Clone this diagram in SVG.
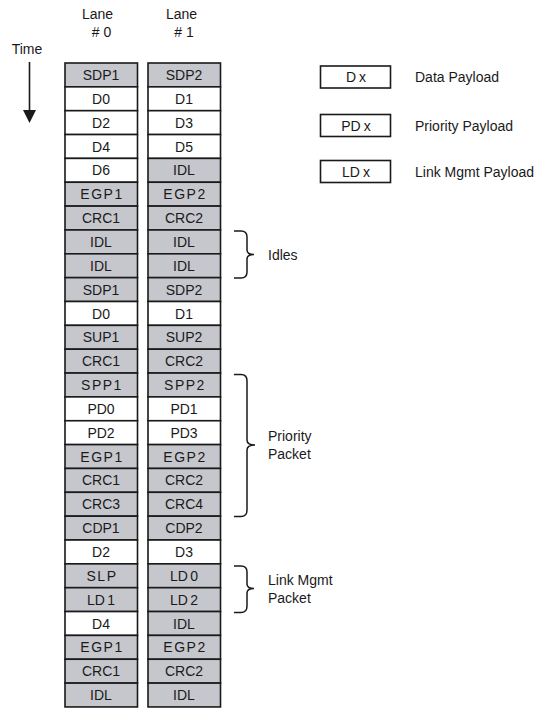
<svg xmlns="http://www.w3.org/2000/svg" width="540" height="710" viewBox="0 0 540 710">
<style>
text{font-family:"Liberation Sans",Arial,sans-serif;fill:#1a1a1a}
.c{font-size:14px;text-anchor:middle}
.h{font-size:14px;text-anchor:middle}
.l{font-size:14px}
.g{fill:#c6c7cd;stroke:#1a1a1a;stroke-width:1.6}
.w{fill:#ffffff;stroke:#1a1a1a;stroke-width:1.6}
.b{fill:none;stroke:#1a1a1a;stroke-width:1.5}
.sp{letter-spacing:1.5px}
</style>
<rect width="540" height="710" fill="#ffffff"/>
<g id="headers">
<text class="h" x="97.5" y="18.5">Lane</text>
<text class="h" x="101.5" y="37"># 0</text>
<text class="h" x="181.5" y="18.5">Lane</text>
<text class="h" x="184" y="37"># 1</text>
<text class="h" x="27" y="54">Time</text>
</g>
<g id="time-arrow">
<line x1="29.5" y1="62" x2="29.5" y2="112" stroke="#1a1a1a" stroke-width="1.6"/>
<polygon points="23,110 36,110 29.5,123" fill="#1a1a1a"/>
</g>
<g id="legend">
<g id="legend-dx"><rect x="320.5" y="66" width="70" height="22" class="w" stroke-width="1.3"/><text class="c" x="356" y="82">D<tspan dx="3">x</tspan></text><text class="l" x="415" y="82">Data Payload</text></g>
<g id="legend-pdx"><rect x="320.5" y="114.5" width="70" height="22" class="w" stroke-width="1.3"/><text class="c" x="356" y="130.5">PD<tspan dx="3">x</tspan></text><text class="l" x="415" y="130.5">Priority Payload</text></g>
<g id="legend-ldx"><rect x="320.5" y="160.5" width="70" height="22" class="w" stroke-width="1.3"/><text class="c" x="356" y="176.5">LD<tspan dx="3">x</tspan></text><text class="l" x="415" y="176.5">Link Mgmt Payload</text></g>
</g>
<g id="lane0">
<g id="l0r0"><rect class="g" x="65" y="63" width="72.5" height="23.85"/><text class="c" x="101" y="80">SDP1</text></g>
<g id="l0r1"><rect class="w" x="65" y="86.85" width="72.5" height="23.85"/><text class="c" x="101" y="103.85">D0</text></g>
<g id="l0r2"><rect class="w" x="65" y="110.7" width="72.5" height="23.85"/><text class="c" x="101" y="127.7">D2</text></g>
<g id="l0r3"><rect class="w" x="65" y="134.55" width="72.5" height="23.85"/><text class="c" x="101" y="151.55">D4</text></g>
<g id="l0r4"><rect class="w" x="65" y="158.4" width="72.5" height="23.85"/><text class="c" x="101" y="175.4">D6</text></g>
<g id="l0r5"><rect class="g" x="65" y="182.25" width="72.5" height="23.85"/><text class="c sp" x="102" y="199.25">EGP1</text></g>
<g id="l0r6"><rect class="g" x="65" y="206.1" width="72.5" height="23.85"/><text class="c" x="101" y="223.1">CRC1</text></g>
<g id="l0r7"><rect class="g" x="65" y="229.95" width="72.5" height="23.85"/><text class="c" x="101" y="246.95">IDL</text></g>
<g id="l0r8"><rect class="g" x="65" y="253.8" width="72.5" height="23.85"/><text class="c" x="101" y="270.8">IDL</text></g>
<g id="l0r9"><rect class="g" x="65" y="277.65" width="72.5" height="23.85"/><text class="c" x="101" y="294.65">SDP1</text></g>
<g id="l0r10"><rect class="w" x="65" y="301.5" width="72.5" height="23.85"/><text class="c" x="101" y="318.5">D0</text></g>
<g id="l0r11"><rect class="g" x="65" y="325.35" width="72.5" height="23.85"/><text class="c" x="101" y="342.35">SUP1</text></g>
<g id="l0r12"><rect class="g" x="65" y="349.2" width="72.5" height="23.85"/><text class="c" x="101" y="366.2">CRC1</text></g>
<g id="l0r13"><rect class="g" x="65" y="373.05" width="72.5" height="23.85"/><text class="c sp" x="102" y="390.05">SPP1</text></g>
<g id="l0r14"><rect class="w" x="65" y="396.9" width="72.5" height="23.85"/><text class="c" x="101" y="413.9">PD0</text></g>
<g id="l0r15"><rect class="w" x="65" y="420.75" width="72.5" height="23.85"/><text class="c" x="101" y="437.75">PD2</text></g>
<g id="l0r16"><rect class="g" x="65" y="444.6" width="72.5" height="23.85"/><text class="c sp" x="102" y="461.6">EGP1</text></g>
<g id="l0r17"><rect class="g" x="65" y="468.45" width="72.5" height="23.85"/><text class="c" x="101" y="485.45">CRC1</text></g>
<g id="l0r18"><rect class="g" x="65" y="492.3" width="72.5" height="23.85"/><text class="c" x="101" y="509.3">CRC3</text></g>
<g id="l0r19"><rect class="g" x="65" y="516.15" width="72.5" height="23.85"/><text class="c" x="101" y="533.15">CDP1</text></g>
<g id="l0r20"><rect class="w" x="65" y="540" width="72.5" height="23.85"/><text class="c" x="101" y="557">D2</text></g>
<g id="l0r21"><rect class="g" x="65" y="563.85" width="72.5" height="23.85"/><text class="c sp" x="102" y="580.85">SLP</text></g>
<g id="l0r22"><rect class="g" x="65" y="587.7" width="72.5" height="23.85"/><text class="c" x="101" y="604.7">LD<tspan dx="2.5">1</tspan></text></g>
<g id="l0r23"><rect class="w" x="65" y="611.55" width="72.5" height="23.85"/><text class="c" x="101" y="628.55">D4</text></g>
<g id="l0r24"><rect class="g" x="65" y="635.4" width="72.5" height="23.85"/><text class="c sp" x="102" y="652.4">EGP1</text></g>
<g id="l0r25"><rect class="g" x="65" y="659.25" width="72.5" height="23.85"/><text class="c" x="101" y="676.25">CRC1</text></g>
<g id="l0r26"><rect class="g" x="65" y="683.1" width="72.5" height="23.85"/><text class="c" x="101" y="700.1">IDL</text></g>
</g>
<g id="lane1">
<g id="l1r0"><rect class="g" x="148" y="63" width="72.5" height="23.85"/><text class="c" x="184" y="80">SDP2</text></g>
<g id="l1r1"><rect class="w" x="148" y="86.85" width="72.5" height="23.85"/><text class="c" x="184" y="103.85">D1</text></g>
<g id="l1r2"><rect class="w" x="148" y="110.7" width="72.5" height="23.85"/><text class="c" x="184" y="127.7">D3</text></g>
<g id="l1r3"><rect class="w" x="148" y="134.55" width="72.5" height="23.85"/><text class="c" x="184" y="151.55">D5</text></g>
<g id="l1r4"><rect class="g" x="148" y="158.4" width="72.5" height="23.85"/><text class="c" x="184" y="175.4">IDL</text></g>
<g id="l1r5"><rect class="g" x="148" y="182.25" width="72.5" height="23.85"/><text class="c sp" x="185" y="199.25">EGP2</text></g>
<g id="l1r6"><rect class="g" x="148" y="206.1" width="72.5" height="23.85"/><text class="c" x="184" y="223.1">CRC2</text></g>
<g id="l1r7"><rect class="g" x="148" y="229.95" width="72.5" height="23.85"/><text class="c" x="184" y="246.95">IDL</text></g>
<g id="l1r8"><rect class="g" x="148" y="253.8" width="72.5" height="23.85"/><text class="c" x="184" y="270.8">IDL</text></g>
<g id="l1r9"><rect class="g" x="148" y="277.65" width="72.5" height="23.85"/><text class="c" x="184" y="294.65">SDP2</text></g>
<g id="l1r10"><rect class="w" x="148" y="301.5" width="72.5" height="23.85"/><text class="c" x="184" y="318.5">D1</text></g>
<g id="l1r11"><rect class="g" x="148" y="325.35" width="72.5" height="23.85"/><text class="c" x="184" y="342.35">SUP2</text></g>
<g id="l1r12"><rect class="g" x="148" y="349.2" width="72.5" height="23.85"/><text class="c" x="184" y="366.2">CRC2</text></g>
<g id="l1r13"><rect class="g" x="148" y="373.05" width="72.5" height="23.85"/><text class="c sp" x="185" y="390.05">SPP2</text></g>
<g id="l1r14"><rect class="w" x="148" y="396.9" width="72.5" height="23.85"/><text class="c" x="184" y="413.9">PD1</text></g>
<g id="l1r15"><rect class="w" x="148" y="420.75" width="72.5" height="23.85"/><text class="c" x="184" y="437.75">PD3</text></g>
<g id="l1r16"><rect class="g" x="148" y="444.6" width="72.5" height="23.85"/><text class="c sp" x="185" y="461.6">EGP2</text></g>
<g id="l1r17"><rect class="g" x="148" y="468.45" width="72.5" height="23.85"/><text class="c" x="184" y="485.45">CRC2</text></g>
<g id="l1r18"><rect class="g" x="148" y="492.3" width="72.5" height="23.85"/><text class="c" x="184" y="509.3">CRC4</text></g>
<g id="l1r19"><rect class="g" x="148" y="516.15" width="72.5" height="23.85"/><text class="c" x="184" y="533.15">CDP2</text></g>
<g id="l1r20"><rect class="w" x="148" y="540" width="72.5" height="23.85"/><text class="c" x="184" y="557">D3</text></g>
<g id="l1r21"><rect class="g" x="148" y="563.85" width="72.5" height="23.85"/><text class="c" x="184" y="580.85">LD<tspan dx="2.5">0</tspan></text></g>
<g id="l1r22"><rect class="g" x="148" y="587.7" width="72.5" height="23.85"/><text class="c" x="184" y="604.7">LD<tspan dx="2.5">2</tspan></text></g>
<g id="l1r23"><rect class="g" x="148" y="611.55" width="72.5" height="23.85"/><text class="c" x="184" y="628.55">IDL</text></g>
<g id="l1r24"><rect class="g" x="148" y="635.4" width="72.5" height="23.85"/><text class="c sp" x="185" y="652.4">EGP2</text></g>
<g id="l1r25"><rect class="g" x="148" y="659.25" width="72.5" height="23.85"/><text class="c" x="184" y="676.25">CRC2</text></g>
<g id="l1r26"><rect class="g" x="148" y="683.1" width="72.5" height="23.85"/><text class="c" x="184" y="700.1">IDL</text></g>
</g>
<g id="braces">
<g id="brace-idles"><path class="b" d="M234,231 H241 Q247,231 247,237 V250 Q247,254.5 254,254.5 Q247,254.5 247,259 V272 Q247,278 241,278 H234"/><text class="l" x="268" y="259.5">Idles</text></g>
<g id="brace-priority"><path class="b" d="M234,374.5 H241 Q247,374.5 247,381 V440 Q247,445 255,445 Q247,445 247,450 V510 Q247,516.5 241,516.5 H234"/><text class="l" x="268" y="441">Priority</text><text class="l" x="268" y="459">Packet</text></g>
<g id="brace-link"><path class="b" d="M234,566 H241 Q247,566 247,572 V584 Q247,588.5 254,588.5 Q247,588.5 247,593 V606 Q247,612.5 241,612.5 H234"/><text class="l" x="268" y="585">Link Mgmt</text><text class="l" x="268" y="603">Packet</text></g>
</g>
</svg>
